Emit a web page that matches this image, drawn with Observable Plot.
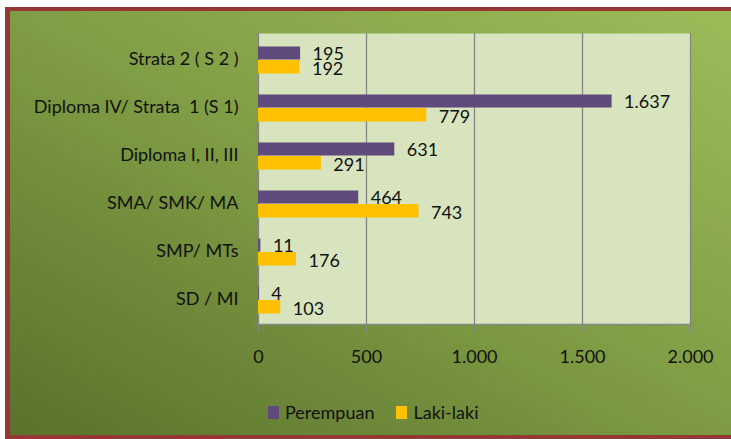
<!DOCTYPE html>
<html><head><meta charset="utf-8">
<script src="https://cdn.jsdelivr.net/npm/d3@7"></script>
<script src="https://cdn.jsdelivr.net/npm/@observablehq/plot@0.6"></script>
<style>
html,body{margin:0;padding:0;background:#fff;width:731px;height:439px;overflow:hidden;font-family:Lato,sans-serif}
#frame{position:absolute;left:5px;top:7px;width:760px;height:424px;border-left:5px solid #953735;border-top:4px solid #953735;border-bottom:4px solid #953735;background:linear-gradient(to top right,#5a722d,#7f9d44 50%,#9dbd5a)}
#chart{position:absolute;left:0;top:0}
#legend{position:absolute;left:268px;top:401px;display:flex;align-items:center;font-size:18px;color:#111}
#legend .sw{display:inline-block;width:11px;height:13px;margin-right:6px}
#legend .item{display:flex;align-items:center;margin-right:22px}
</style></head><body>
<div id="frame"></div>
<div id="chart"></div>
<div id="legend"></div>
<script>
const categories = ["Strata 2 ( S 2 )", "Diploma IV/ Strata  1 (S 1)", "Diploma I, II, III", "SMA/ SMK/ MA", "SMP/ MTs", "SD / MI"];
const perempuan = [195, 1637, 631, 464, 11, 4];
const lakiLaki = [192, 779, 291, 743, 176, 103];
const seriesNames = ["Perempuan", "Laki-laki"];
const seriesColors = ["#604A7B", "#FFC000"];
const xTicks = [0, 500, 1000, 1500, 2000];

const locale = d3.formatLocale({decimal: ",", thousands: ".", grouping: [3], currency: ["Rp", ""]});
const fmt = locale.format(",d");

const dataP = categories.map((c, i) => ({cat: c, value: perempuan[i]}));
const dataL = categories.map((c, i) => ({cat: c, value: lakiLaki[i]}));
const gray = "#868686";
const half = 291 / 6 / 2;

const chart = Plot.plot({
  width: 731,
  height: 380,
  marginTop: 33,
  marginBottom: 56,
  marginLeft: 258,
  marginRight: 41,
  style: {background: "transparent", fontFamily: "Lato, sans-serif", fontSize: "18px", color: "#111", overflow: "visible"},
  x: {domain: [0, 2000], label: null},
  y: {domain: categories, paddingInner: 0, paddingOuter: 0, label: null},
  marks: [
    Plot.frame({fill: "#D7E4BD", stroke: null}),
    Plot.ruleX(xTicks.slice(1), {stroke: gray, strokeWidth: 1.3}),
    Plot.ruleX([0], {stroke: gray, strokeWidth: 1.3}),
    Plot.frame({anchor: "bottom", stroke: gray, strokeWidth: 1.3}),
    Plot.barX(dataP, {y: "cat", x: "value", fill: seriesColors[0], insetTop: 11.5, insetBottom: 23.5}),
    Plot.barX(dataL, {y: "cat", x: "value", fill: seriesColors[1], insetTop: 25, insetBottom: 9.5}),
    Plot.text(dataP, {y: "cat", x: "value", text: d => fmt(d.value), textAnchor: "start", dx: 12, dy: -5, fill: "#111", fontSize: 18}),
    Plot.text(dataL, {y: "cat", x: "value", text: d => fmt(d.value), textAnchor: "start", dx: 12, dy: 10, fill: "#111", fontSize: 18}),
    Plot.axisY({tickSize: 0, tickPadding: 20, fill: "#111", fontSize: 18}),
    Plot.axisY({ticks: categories, tickSize: 5, text: null, dy: -half, stroke: gray}),
    Plot.axisY({ticks: categories.slice(-1), tickSize: 5, text: null, dy: half, stroke: gray}),
    Plot.axisX({ticks: xTicks, tickSize: 9, text: null, stroke: gray}),
    Plot.axisX({ticks: xTicks, tickSize: 0, tickPadding: 26, tickFormat: fmt, fill: "#111", fontSize: 18})
  ]
});
document.getElementById("chart").appendChild(chart);

const legend = document.getElementById("legend");
seriesNames.forEach((n, i) => {
  const item = document.createElement("div");
  item.className = "item";
  item.innerHTML = `<span class="sw" style="background:${seriesColors[i]}"></span><span>${n}</span>`;
  legend.appendChild(item);
});
</script>
</body></html>
